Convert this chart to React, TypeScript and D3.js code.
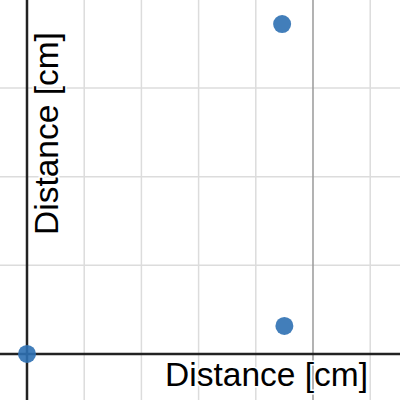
import React from "react";
import * as d3 from "d3";

const xPoints = [0, 4.46, 4.5];
const yPoints = [0, 3.72, 0.316];
const xGridTicks = [1, 2, 3, 4, 6];
const yGridTicks = [1, 2, 3];
const xMajor = [5];
const xLabel = "Distance [cm]";
const yLabel = "Distance [cm]";

const W = 400;
const H = 400;

export default function App() {
  const x = d3.scaleLinear().domain([-0.472, 6.521]).range([0, W]);
  const y = d3.scaleLinear().domain([-0.519, 3.992]).range([H, 0]);
  const textStyle: React.CSSProperties = {
    fontFamily: "'Liberation Sans', Arial, sans-serif",
    fontSize: 33.5,
    paintOrder: "stroke",
  };
  return (
    <svg
      width={W}
      height={H}
      style={{ position: "absolute", left: 0, top: 0, background: "#fff" }}
    >
      <rect x={0} y={0} width={W} height={H} fill="#fff" />
      {xGridTicks.map((t) => (
        <line key={"gx" + t} x1={x(t)} x2={x(t)} y1={0} y2={H} stroke="#dcdcdc" strokeWidth={1.5} />
      ))}
      {yGridTicks.map((t) => (
        <line key={"gy" + t} x1={0} x2={W} y1={y(t)} y2={y(t)} stroke="#dcdcdc" strokeWidth={1.5} />
      ))}
      {xMajor.map((t) => (
        <line key={"mx" + t} x1={x(t)} x2={x(t)} y1={0} y2={H} stroke="#999" strokeWidth={1.5} />
      ))}
      <line x1={0} x2={W} y1={y(0)} y2={y(0)} stroke="#222" strokeWidth={2.5} />
      <line x1={x(0)} x2={x(0)} y1={0} y2={H} stroke="#222" strokeWidth={2.5} />
      <text
        x={368}
        y={386}
        textAnchor="end"
        fill="#000"
        stroke="#fff"
        strokeWidth={3}
        style={textStyle}
      >
        {xLabel}
      </text>
      <text
        transform="translate(58,235) rotate(-90)"
        textAnchor="start"
        fill="#000"
        stroke="#fff"
        strokeWidth={3}
        style={textStyle}
      >
        {yLabel}
      </text>
      {xPoints.map((v, i) => (
        <circle key={"p" + i} cx={x(v)} cy={y(yPoints[i])} r={9} fill="#2d70b3" fillOpacity={0.9} />
      ))}
    </svg>
  );
}
